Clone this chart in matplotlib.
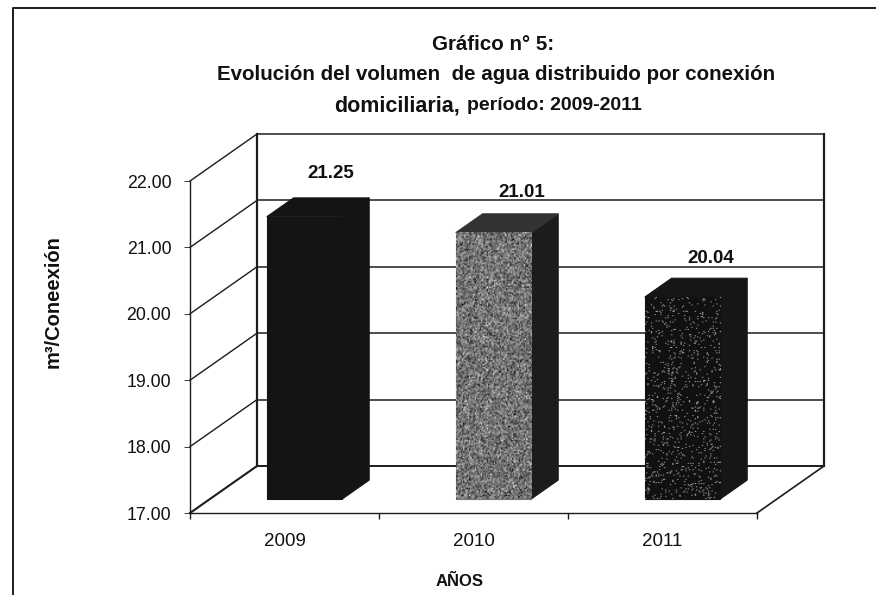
import numpy as np
import matplotlib
matplotlib.use("Agg")
import matplotlib.pyplot as plt
from matplotlib.lines import Line2D

plt.rcParams["font.family"] = ["Liberation Sans", "DejaVu Sans"]

# values
years = ["2009", "2010", "2011"]
volumes = [21.25, 21.01, 20.04]
y_ticks = [17, 18, 19, 20, 21, 22]
y_tick_labels = ["17.00", "18.00", "19.00", "20.00", "21.00", "22.00"]

W, H = 876, 595
# depth of the fake 3d box, in pixels
DEPTH_X, DEPTH_Y = 67, 47
BAR_W = 0.4
BAR_D0, BAR_D1 = 0.3, 0.7
INK = "#111111"
LINE = "#1c1c1c"

fig = plt.figure(figsize=(W / 100, H / 100), dpi=100)

# front plane of the box: x 190..757, y 513..181 in pixels
ax = fig.add_axes([190 / W, 1 - 513 / H, 567 / W, 332 / H])
ax.set_xlim(0, 3)
ax.set_ylim(17, 22)
ax.patch.set_visible(False)
for s in ["top", "right"]:
    ax.spines[s].set_visible(False)
for s in ["left", "bottom"]:
    ax.spines[s].set_linewidth(1.0)
    ax.spines[s].set_color(LINE)

ax.set_yticks(y_ticks)
ax.set_yticklabels(y_tick_labels, fontsize=12.8, color=INK)
ax.set_xticks([0, 1, 2, 3])
ax.set_xticklabels([])
ax.set_xticks([0.5, 1.5, 2.5], minor=True)
ax.set_xticklabels(years, minor=True, fontsize=13.5, color=INK)
ax.tick_params(axis="x", which="minor", length=0, pad=14.5)
ax.tick_params(axis="x", which="major", length=4, width=1, color=LINE)
ax.tick_params(axis="y", length=4, width=0.6, color=LINE, pad=9.5)

dx = DEPTH_X / (567 / 3)
dv = DEPTH_Y / (332 / 5)


def project(x, v, d):
    # x in categories, v in m3, d from 0 (front) to 1 (back)
    return x + d * dx, v + d * dv


def line3d(p0, p1, lw=1.0):
    ax.plot([p0[0], p1[0]], [p0[1], p1[1]], color=LINE, lw=lw,
            clip_on=False, zorder=1, solid_capstyle="projecting")


# walls
for v in y_ticks:
    line3d(project(0, v, 0), project(0, v, 1), lw=1.5 if v == 17 else 1.0)
    line3d(project(0, v, 1), project(3, v, 1), lw=1.4 if v == 17 else 1.1)
line3d(project(0, 17, 1), project(0, 22, 1), lw=1.6)
line3d(project(3, 17, 1), project(3, 22, 1), lw=1.6)
line3d(project(3, 17, 0), project(3, 17, 1), lw=1.2)

# scan grain on the front of the bars, only a look, not data
rng = np.random.default_rng(5)
grain = [
    None,
    np.clip(rng.normal(0.45, 0.15, (190, 64)), 0, 1),
    np.where(rng.random((190, 64)) < 0.07, 0.62, 0.07),
]
face_cols = ["#141414", "#777777", "#141414"]
side_cols = ["#141414", "#1c1c1c", "#161616"]
top_cols = ["#141414", "#333333", "#161616"]
# nudges of the value labels, in pixels
label_dx = [13, 15, 15]
label_dy = [34, 31, 29]

for i, v in enumerate(volumes):
    x0 = i + 0.5 - BAR_W / 2
    x1 = i + 0.5 + BAR_W / 2
    fl0 = project(x0, 17, BAR_D0)
    fr0 = project(x1, 17, BAR_D0)
    fl1 = project(x0, v, BAR_D0)
    fr1 = project(x1, v, BAR_D0)
    br0 = project(x1, 17, BAR_D1)
    br1 = project(x1, v, BAR_D1)
    bl1 = project(x0, v, BAR_D1)
    ax.fill(*zip(fl0, fr0, fr1, fl1), fc=face_cols[i], ec=face_cols[i], lw=0.8, zorder=3, clip_on=False)
    ax.fill(*zip(fr0, br0, br1, fr1), fc=side_cols[i], ec=side_cols[i], lw=0.8, zorder=3, clip_on=False)
    ax.fill(*zip(fl1, fr1, br1, bl1), fc=top_cols[i], ec=top_cols[i], lw=0.8, zorder=3, clip_on=False)
    if grain[i] is not None:
        ax.imshow(grain[i], cmap="gray", vmin=0, vmax=1, aspect="auto", zorder=4,
                  extent=(fl0[0], fr0[0], fl0[1], fl1[1]), interpolation="bilinear", clip_on=False)
    ax.annotate(f"{v:.2f}", xy=project(i + 0.5, v, 0.5), xytext=(label_dx[i], label_dy[i]),
                textcoords="offset pixels", ha="center", va="center",
                fontsize=13.5, fontweight="bold", color=INK, annotation_clip=False)

ax.set_xlim(0, 3)
ax.set_ylim(17, 22)

# title and axis titles
fig.text(493 / W, 1 - 44 / H, "Gráfico n° 5:", ha="center", va="center",
         fontsize=14.8, fontweight="bold", color=INK)
fig.text(496 / W, 1 - 75 / H, "Evolución del volumen  de agua distribuido por conexión",
         ha="center", va="center", fontsize=14.8, fontweight="bold", color=INK)
fig.text(334 / W, 1 - 106 / H, "domiciliaria,", ha="left", va="center",
         fontsize=15.5, fontweight="bold", color=INK)
fig.text(467 / W, 1 - 106 / H, "período: 2009-2011", ha="left", va="center",
         fontsize=14, fontweight="bold", color=INK)
fig.text(53 / W, 1 - 302 / H, "m³/Coneexión", rotation=90, ha="center", va="center",
         fontsize=14.5, fontweight="bold", color=INK)
fig.text(459.5 / W, 1 - 581 / H, "AÑOS", ha="center", va="center",
         fontsize=12, fontweight="bold", color=INK)

# page frame of the scanned document
fig.add_artist(Line2D([13 / W, 13 / W, 1], [0, 1 - 8 / H, 1 - 8 / H],
                      color=LINE, lw=1.4, transform=fig.transFigure))

fig.savefig("out.png", dpi=100)
